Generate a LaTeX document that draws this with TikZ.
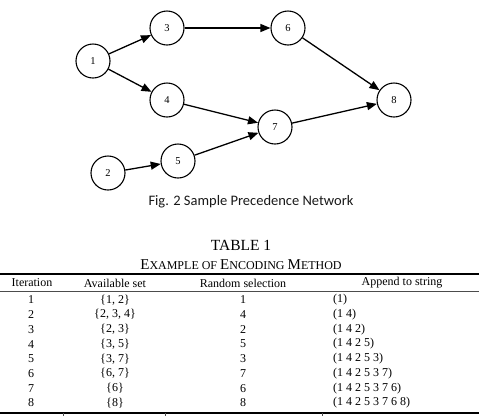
\documentclass[tikz,border=0pt]{standalone}
\usepackage{fontspec}
\setmainfont{Liberation Serif}
\newfontfamily\capfont{Carlito}
\usetikzlibrary{arrows.meta}

\begin{document}
\begin{tikzpicture}[x=1pt,y=-1pt,every node/.style={font=\fontsize{12}{14}\selectfont,inner sep=0pt},
    task/.style={draw,circle,line width=1.1pt,minimum size=34pt,font=\fontsize{10.5}{12}\selectfont},
    link/.style={-{Triangle[length=10pt,width=8pt]},line width=1.3pt}]
  \useasboundingbox (0,0) rectangle (479,416);
  % precedence network
  \node[task] (t1) at (93,61) {1};
  \node[task] (t2) at (108,173) {2};
  \node[task] (t3) at (167,28) {3};
  \node[task] (t4) at (167,100) {4};
  \node[task] (t5) at (178,161) {5};
  \node[task] (t6) at (288,28) {6};
  \node[task] (t7) at (275,127) {7};
  \node[task] (t8) at (394,100) {8};
  \draw[link] (t1)--(t3);
  \draw[link] (t1)--(t4);
  \draw[link] (t3)--(t6);
  \draw[link] (t6)--(t8);
  \draw[link] (t4)--(t7);
  \draw[link] (t2)--(t5);
  \draw[link] (t5)--(t7);
  \draw[link] (t7)--(t8);
  \node[font=\capfont\fontsize{14.5}{16}\selectfont,text=black!90] (fig) at (251,202) {Fig. 2 Sample Precedence Network};
  % table
  \node[font=\fontsize{15.5}{17}\selectfont] (tab) at (241,245) {TABLE 1};
  \node[font=\fontsize{12}{14}\selectfont] (tabtitle) at (241,265)
    {{\fontsize{15}{17}\selectfont E}XAMPLE OF {\fontsize{15}{17}\selectfont E}NCODING {\fontsize{15}{17}\selectfont M}ETHOD};
  \draw[line width=1.8pt] (0,274)--(479,274);
  \draw[line width=0.7pt,black!70] (0,291)--(479,291);
  \draw[line width=1.8pt] (0,413)--(479,413);
  \draw[line width=0.6pt,black!70] (63,413)--(63,416) (165,413)--(165,416) (322,413)--(322,416);
  \node (h1) at (32,283) {Iteration};
  \node (h2) at (115,283) {Available set};
  \node (h3) at (243,283) {Random selection};
  \node (h4) at (402,283) {Append to string};
  \foreach \i/\s/\r/\a in {1/{\{1, 2\}}/1/{(1)},2/{\{2, 3, 4\}}/4/{(1 4)},3/{\{2, 3\}}/2/{(1 4 2)},
      4/{\{3, 5\}}/5/{(1 4 2 5)},5/{\{3, 7\}}/3/{(1 4 2 5 3)},6/{\{6, 7\}}/7/{(1 4 2 5 3 7)},
      7/{\{6\}}/6/{(1 4 2 5 3 7 6)},8/{\{8\}}/8/{(1 4 2 5 3 7 6 8)}}{
    \node (it\i) at (31,{300+(\i-1)*14.7}) {\i};
    \node (av\i) at (115,{300+(\i-1)*14.7}) {\s};
    \node (rs\i) at (243,{300+(\i-1)*14.7}) {\r};
    \node[anchor=west] (ap\i) at (333,{300+(\i-1)*14.7}) {\a};
  }
\end{tikzpicture}
\end{document}
